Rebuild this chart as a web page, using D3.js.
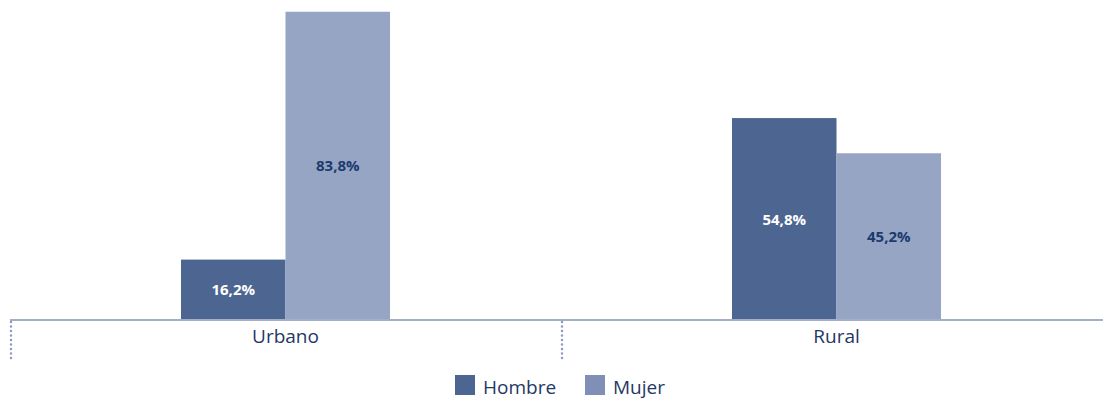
<!DOCTYPE html>
<html><head><meta charset="utf-8">
<script src="https://cdn.jsdelivr.net/npm/d3@7"></script>
<style>body{margin:0;background:#fff}svg{display:block}text{font-family:"Open Sans",sans-serif}</style>
</head><body><svg id="c" width="1103" height="400"></svg>
<script>
const categories = ["Urbano", "Rural"];
const seriesNames = ["Hombre", "Mujer"];
const hombre = [16.2, 54.8];
const mujer = [83.8, 45.2];

const colors = {Hombre: "#4d6591", Mujer: "#95a5c3"};
const legendColors = {Hombre: "#4d6591", Mujer: "#7f8fb5"};
const labelColors = {Hombre: "#ffffff", Mujer: "#1c3a6e"};
const textColor = "#1f3864";

const svg = d3.select("#c");
const baseY = 319;
const x0 = d3.scaleBand().domain(categories).range([10, 1112]).padding(0);
const x1 = d3.scaleBand().domain(seriesNames).range([0, x0.bandwidth()]).paddingInner(0).paddingOuter(1.636);
const y = d3.scaleLinear().domain([0, 87]).range([baseY, 0]);

const data = categories.map((c, i) => ({cat: c, vals: [{s: "Hombre", v: hombre[i]}, {s: "Mujer", v: mujer[i]}]}));
const fmt = v => v.toFixed(1).replace(".", ",") + "%";

const g = svg.selectAll("g.cat").data(data).join("g").attr("class", "cat")
  .attr("transform", d => `translate(${x0(d.cat)},0)`);
g.selectAll("rect").data(d => d.vals).join("rect")
  .attr("x", d => x1(d.s)).attr("width", x1.bandwidth())
  .attr("y", d => y(d.v)).attr("height", d => y(0) - y(d.v))
  .attr("fill", d => colors[d.s]);
g.selectAll("text.val").data(d => d.vals).join("text").attr("class", "val")
  .attr("x", d => x1(d.s) + x1.bandwidth() / 2)
  .attr("y", d => (y(d.v) + y(0)) / 2)
  .attr("text-anchor", "middle").attr("dominant-baseline", "central")
  .attr("font-size", 15).attr("font-weight", "bold")
  .attr("fill", d => labelColors[d.s]).text(d => fmt(d.v));

// axis
const axis = svg.append("g").attr("transform", `translate(0,${baseY})`)
  .call(d3.axisBottom(x0).tickSize(0).tickPadding(11));
axis.select(".domain").attr("stroke", "#a3aec9").attr("stroke-width", 2).attr("d", `M${x0.range()[0]},1H1103`);
axis.selectAll(".tick text").attr("font-size", 19).attr("fill", textColor).attr("font-family", "'Open Sans',sans-serif");

// dotted separators
const seps = categories.map(c => x0(c));
svg.selectAll("line.sep").data(seps).join("line").attr("class", "sep")
  .attr("x1", d => d + 1).attr("x2", d => d + 1).attr("y1", baseY + 3).attr("y2", 359)
  .attr("stroke", "#8c9bc0").attr("stroke-width", 2.5).attr("stroke-linecap", "round")
  .attr("stroke-dasharray", "0,4.5");

// legend
const legendX = [455, 585];
const lg = svg.selectAll("g.lg").data(seriesNames).join("g").attr("class", "lg")
  .attr("transform", (d, i) => `translate(${legendX[i]},375)`);
lg.append("rect").attr("width", 20).attr("height", 20).attr("fill", d => legendColors[d]);
lg.append("text").attr("x", 28).attr("y", 19).attr("font-size", 19).attr("fill", textColor).text(d => d);
</script></body></html>
